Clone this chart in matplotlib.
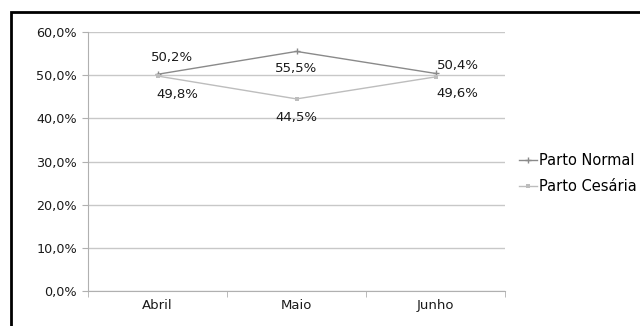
import matplotlib
matplotlib.use("Agg")
import matplotlib.pyplot as plt
from matplotlib.patches import Rectangle

months = ["Abril", "Maio", "Junho"]
normal = [50.2, 55.5, 50.4]
cesaria = [49.8, 44.5, 49.6]
yticks = [0, 10, 20, 30, 40, 50, 60]

fig = plt.figure(figsize=(6.4, 3.26), dpi=100)
fig.patch.set_facecolor("white")
ax = fig.add_axes([88/640, 1 - 291/326, (505-88)/640, (291-32)/326])

x = [i + 0.5 for i in range(len(months))]
c_norm = "#8a8a8a"
c_ces = "#bdbdbd"
ax.plot(x, normal, color=c_norm, lw=1.0, marker="+", ms=4, mew=1, label="Parto Normal", zorder=3)
ax.plot(x, cesaria, color=c_ces, lw=1.0, marker="s", ms=3.5, mew=0, label="Parto Cesária", zorder=3)

def fmt(v):
    return f"{v:.1f}%".replace(".", ",")

k = 0.72
off_n = [(15, -17), (0, 17), (22, -8)]
off_c = [(20, 18), (0, 19), (22, 17)]
for xi, v, o in zip(x, normal, off_n):
    ax.annotate(fmt(v), (xi, v), xytext=(o[0]*k, -o[1]*k), textcoords="offset points",
                ha="center", va="center", fontsize=9.5, color="#1a1a1a")
for xi, v, o in zip(x, cesaria, off_c):
    ax.annotate(fmt(v), (xi, v), xytext=(o[0]*k, -o[1]*k), textcoords="offset points",
                ha="center", va="center", fontsize=9.5, color="#1a1a1a")

ax.set_xlim(0, 3)
ax.set_ylim(0, 60)
ax.set_yticks(yticks)
ax.set_yticklabels([f"{t},0%" for t in yticks], fontsize=9.2, color="#1a1a1a")
ax.set_xticks(x)
ax.set_xticklabels(months, fontsize=9.5, color="#1a1a1a")
ax.set_xticks([0, 1, 2, 3], minor=True)
ax.tick_params(axis="x", which="major", length=0, pad=6)
ax.tick_params(axis="x", which="minor", length=4, color="#b0b0b0")
ax.tick_params(axis="y", length=4, color="#b0b0b0", pad=4)
ax.grid(axis="y", color="#c8c8c8", lw=1.0)
ax.set_axisbelow(True)
for s in ["top", "right"]:
    ax.spines[s].set_visible(False)
ax.spines["left"].set_color("#b0b0b0")
ax.spines["bottom"].set_color("#b0b0b0")

fig.legend(loc="upper left", bbox_to_anchor=(519/640, 1 - 153/326), frameon=False,
           fontsize=10.5, handlelength=1.2, handletextpad=0.2, labelspacing=0.75,
           borderaxespad=0, borderpad=0)

fig.patches.append(Rectangle((11/640, -0.1), 1.2, 1.1 - 12/326, transform=fig.transFigure,
                             fill=False, edgecolor="black", lw=2, figure=fig))

fig.savefig("out.png", dpi=100, facecolor="white")
